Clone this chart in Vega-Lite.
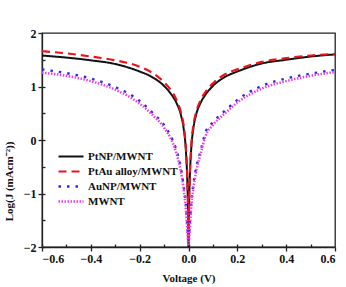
{
  "$schema": "https://vega.github.io/schema/vega-lite/v6.json",
  "width": 293,
  "height": 214,
  "autosize": {"type": "none"},
  "padding": {"left": 42, "top": 33, "right": 11, "bottom": 40},
  "background": "white",
  "config": {
    "view": {"stroke": "#222", "strokeWidth": 1.3},
    "font": "Liberation Serif",
    "axis": {
      "grid": false,
      "domainColor": "#222",
      "domainWidth": 1.3,
      "tickColor": "#222",
      "tickWidth": 1.3,
      "tickSize": 4,
      "labelFont": "Liberation Serif",
      "labelFontWeight": "bold",
      "labelFontSize": 12,
      "labelColor": "#111",
      "titleFont": "Liberation Serif",
      "titleFontWeight": "bold",
      "titleFontSize": 11,
      "titleColor": "#111"
    }
  },
  "data": {
    "values": [
      {"s": "PtNP/MWNT", "v": -0.6, "y": 1.58},
      {"s": "PtNP/MWNT", "v": -0.5, "y": 1.54},
      {"s": "PtNP/MWNT", "v": -0.4, "y": 1.49},
      {"s": "PtNP/MWNT", "v": -0.3, "y": 1.42},
      {"s": "PtNP/MWNT", "v": -0.2, "y": 1.28},
      {"s": "PtNP/MWNT", "v": -0.15, "y": 1.18},
      {"s": "PtNP/MWNT", "v": -0.1, "y": 1.01},
      {"s": "PtNP/MWNT", "v": -0.07, "y": 0.85},
      {"s": "PtNP/MWNT", "v": -0.05, "y": 0.7},
      {"s": "PtNP/MWNT", "v": -0.03, "y": 0.45},
      {"s": "PtNP/MWNT", "v": -0.02, "y": 0.22},
      {"s": "PtNP/MWNT", "v": -0.01, "y": -0.25},
      {"s": "PtNP/MWNT", "v": -0.005, "y": -0.75},
      {"s": "PtNP/MWNT", "v": -0.002, "y": -1.3},
      {"s": "PtNP/MWNT", "v": 0, "y": -2},
      {"s": "PtNP/MWNT", "v": 0.002, "y": -1.3},
      {"s": "PtNP/MWNT", "v": 0.005, "y": -0.75},
      {"s": "PtNP/MWNT", "v": 0.01, "y": -0.25},
      {"s": "PtNP/MWNT", "v": 0.02, "y": 0.22},
      {"s": "PtNP/MWNT", "v": 0.03, "y": 0.45},
      {"s": "PtNP/MWNT", "v": 0.05, "y": 0.7},
      {"s": "PtNP/MWNT", "v": 0.07, "y": 0.85},
      {"s": "PtNP/MWNT", "v": 0.1, "y": 1.01},
      {"s": "PtNP/MWNT", "v": 0.15, "y": 1.18},
      {"s": "PtNP/MWNT", "v": 0.2, "y": 1.28},
      {"s": "PtNP/MWNT", "v": 0.3, "y": 1.43},
      {"s": "PtNP/MWNT", "v": 0.4, "y": 1.5},
      {"s": "PtNP/MWNT", "v": 0.5, "y": 1.56},
      {"s": "PtNP/MWNT", "v": 0.6, "y": 1.6},

      {"s": "PtAu alloy/MWNT", "v": -0.6, "y": 1.66},
      {"s": "PtAu alloy/MWNT", "v": -0.5, "y": 1.62},
      {"s": "PtAu alloy/MWNT", "v": -0.4, "y": 1.56},
      {"s": "PtAu alloy/MWNT", "v": -0.3, "y": 1.49},
      {"s": "PtAu alloy/MWNT", "v": -0.2, "y": 1.37},
      {"s": "PtAu alloy/MWNT", "v": -0.15, "y": 1.26},
      {"s": "PtAu alloy/MWNT", "v": -0.1, "y": 1.08},
      {"s": "PtAu alloy/MWNT", "v": -0.07, "y": 0.92},
      {"s": "PtAu alloy/MWNT", "v": -0.05, "y": 0.76},
      {"s": "PtAu alloy/MWNT", "v": -0.03, "y": 0.5},
      {"s": "PtAu alloy/MWNT", "v": -0.02, "y": 0.28},
      {"s": "PtAu alloy/MWNT", "v": -0.01, "y": -0.2},
      {"s": "PtAu alloy/MWNT", "v": -0.005, "y": -0.7},
      {"s": "PtAu alloy/MWNT", "v": -0.002, "y": -1.2},
      {"s": "PtAu alloy/MWNT", "v": 0, "y": -1.8},
      {"s": "PtAu alloy/MWNT", "v": 0.002, "y": -1.2},
      {"s": "PtAu alloy/MWNT", "v": 0.005, "y": -0.7},
      {"s": "PtAu alloy/MWNT", "v": 0.01, "y": -0.2},
      {"s": "PtAu alloy/MWNT", "v": 0.02, "y": 0.28},
      {"s": "PtAu alloy/MWNT", "v": 0.03, "y": 0.5},
      {"s": "PtAu alloy/MWNT", "v": 0.05, "y": 0.75},
      {"s": "PtAu alloy/MWNT", "v": 0.07, "y": 0.9},
      {"s": "PtAu alloy/MWNT", "v": 0.1, "y": 1.06},
      {"s": "PtAu alloy/MWNT", "v": 0.15, "y": 1.23},
      {"s": "PtAu alloy/MWNT", "v": 0.2, "y": 1.32},
      {"s": "PtAu alloy/MWNT", "v": 0.3, "y": 1.46},
      {"s": "PtAu alloy/MWNT", "v": 0.4, "y": 1.53},
      {"s": "PtAu alloy/MWNT", "v": 0.5, "y": 1.58},
      {"s": "PtAu alloy/MWNT", "v": 0.6, "y": 1.61},

      {"s": "AuNP/MWNT", "v": -0.6, "y": 1.32},
      {"s": "AuNP/MWNT", "v": -0.5, "y": 1.25},
      {"s": "AuNP/MWNT", "v": -0.4, "y": 1.15},
      {"s": "AuNP/MWNT", "v": -0.3, "y": 0.99},
      {"s": "AuNP/MWNT", "v": -0.2, "y": 0.73},
      {"s": "AuNP/MWNT", "v": -0.15, "y": 0.52},
      {"s": "AuNP/MWNT", "v": -0.1, "y": 0.28},
      {"s": "AuNP/MWNT", "v": -0.07, "y": 0.05},
      {"s": "AuNP/MWNT", "v": -0.05, "y": -0.18},
      {"s": "AuNP/MWNT", "v": -0.03, "y": -0.55},
      {"s": "AuNP/MWNT", "v": -0.02, "y": -0.85},
      {"s": "AuNP/MWNT", "v": -0.01, "y": -1.25},
      {"s": "AuNP/MWNT", "v": -0.005, "y": -1.6},
      {"s": "AuNP/MWNT", "v": 0, "y": -1.85},
      {"s": "AuNP/MWNT", "v": 0.005, "y": -1.6},
      {"s": "AuNP/MWNT", "v": 0.01, "y": -1.25},
      {"s": "AuNP/MWNT", "v": 0.02, "y": -0.82},
      {"s": "AuNP/MWNT", "v": 0.03, "y": -0.55},
      {"s": "AuNP/MWNT", "v": 0.05, "y": -0.2},
      {"s": "AuNP/MWNT", "v": 0.07, "y": 0.15},
      {"s": "AuNP/MWNT", "v": 0.1, "y": 0.33},
      {"s": "AuNP/MWNT", "v": 0.15, "y": 0.55},
      {"s": "AuNP/MWNT", "v": 0.2, "y": 0.75},
      {"s": "AuNP/MWNT", "v": 0.3, "y": 1.01},
      {"s": "AuNP/MWNT", "v": 0.4, "y": 1.15},
      {"s": "AuNP/MWNT", "v": 0.5, "y": 1.24},
      {"s": "AuNP/MWNT", "v": 0.6, "y": 1.31},

      {"s": "MWNT", "v": -0.6, "y": 1.26},
      {"s": "MWNT", "v": -0.5, "y": 1.2},
      {"s": "MWNT", "v": -0.4, "y": 1.1},
      {"s": "MWNT", "v": -0.3, "y": 0.94},
      {"s": "MWNT", "v": -0.2, "y": 0.68},
      {"s": "MWNT", "v": -0.15, "y": 0.48},
      {"s": "MWNT", "v": -0.1, "y": 0.23},
      {"s": "MWNT", "v": -0.07, "y": 0.0},
      {"s": "MWNT", "v": -0.05, "y": -0.24},
      {"s": "MWNT", "v": -0.03, "y": -0.62},
      {"s": "MWNT", "v": -0.02, "y": -0.92},
      {"s": "MWNT", "v": -0.01, "y": -1.35},
      {"s": "MWNT", "v": -0.005, "y": -1.7},
      {"s": "MWNT", "v": 0, "y": -1.95},
      {"s": "MWNT", "v": 0.005, "y": -1.7},
      {"s": "MWNT", "v": 0.01, "y": -1.33},
      {"s": "MWNT", "v": 0.02, "y": -0.9},
      {"s": "MWNT", "v": 0.03, "y": -0.62},
      {"s": "MWNT", "v": 0.05, "y": -0.25},
      {"s": "MWNT", "v": 0.07, "y": 0.08},
      {"s": "MWNT", "v": 0.1, "y": 0.28},
      {"s": "MWNT", "v": 0.15, "y": 0.5},
      {"s": "MWNT", "v": 0.2, "y": 0.7},
      {"s": "MWNT", "v": 0.3, "y": 0.96},
      {"s": "MWNT", "v": 0.4, "y": 1.1},
      {"s": "MWNT", "v": 0.5, "y": 1.2},
      {"s": "MWNT", "v": 0.6, "y": 1.27}
    ]
  },
  "layer": [
    {
      "mark": {"type": "line", "strokeOpacity": 0, "clip": true},
      "encoding": {
        "x": {
          "field": "v", "type": "quantitative",
          "scale": {"domain": [-0.6, 0.6], "nice": false, "zero": false},
          "axis": {"orient": "bottom", "values": [-0.6, -0.5, -0.4, -0.3, -0.2, -0.1, 0, 0.1, 0.2, 0.3, 0.4, 0.5], "tickSize": -3, "labels": false, "domain": false, "title": null}
        },
        "y": {
          "field": "y", "type": "quantitative",
          "scale": {"domain": [-2, 2], "nice": false},
          "axis": {"orient": "left", "values": [-2, -1.5, -1, -0.5, 0, 0.5, 1, 1.5], "tickSize": -3, "labels": false, "domain": false, "title": null}
        },
        "detail": {"field": "s", "type": "nominal"}
      }
    },
    {
      "mark": {"type": "line", "interpolate": "monotone", "clip": true},
      "encoding": {
        "x": {
          "field": "v", "type": "quantitative",
          "scale": {"domain": [-0.6, 0.6], "nice": false, "zero": false},
          "axis": {"orient": "bottom", "values": [-0.6, -0.4, -0.2, 0, 0.2, 0.4, 0.6], "format": ".1f", "title": "Voltage (V)", "titlePadding": 8, "labelPadding": 2}
        },
        "y": {
          "field": "y", "type": "quantitative",
          "scale": {"domain": [-2, 2], "nice": false},
          "axis": {"orient": "left", "values": [-2, -1, 0, 1, 2], "format": "d", "title": "Log(J (mAcm⁻²))", "titlePadding": 9, "labelPadding": 2, "titleY": 148}
        },
        "color": {
          "field": "s", "type": "nominal",
          "scale": {"domain": ["PtNP/MWNT", "PtAu alloy/MWNT", "AuNP/MWNT", "MWNT"], "range": ["#111111", "#e8141c", "#2b2bd6", "#f03cf0"]},
          "legend": {
            "orient": "none", "legendX": 15, "legendY": 116, "title": null,
            "symbolType": "stroke", "symbolSize": 625, "clipHeight": 15, "rowPadding": 0,
            "labelFont": "Liberation Serif", "labelFontWeight": "bold", "labelFontSize": 11, "labelColor": "#111", "labelOffset": 3,
            "padding": 0
          }
        },
        "strokeDash": {
          "field": "s", "type": "nominal",
          "scale": {"domain": ["PtNP/MWNT", "PtAu alloy/MWNT", "AuNP/MWNT", "MWNT"], "range": [[1, 0], [8, 5], [2.5, 6], [1.5, 1.5]]}
        },
        "strokeWidth": {
          "field": "s", "type": "nominal",
          "scale": {"domain": ["PtNP/MWNT", "PtAu alloy/MWNT", "AuNP/MWNT", "MWNT"], "range": [2, 2.5, 2.5, 1.5]}
        }
      }
    }
  ],
  "resolve": {"axis": {"x": "independent", "y": "independent"}}
}
